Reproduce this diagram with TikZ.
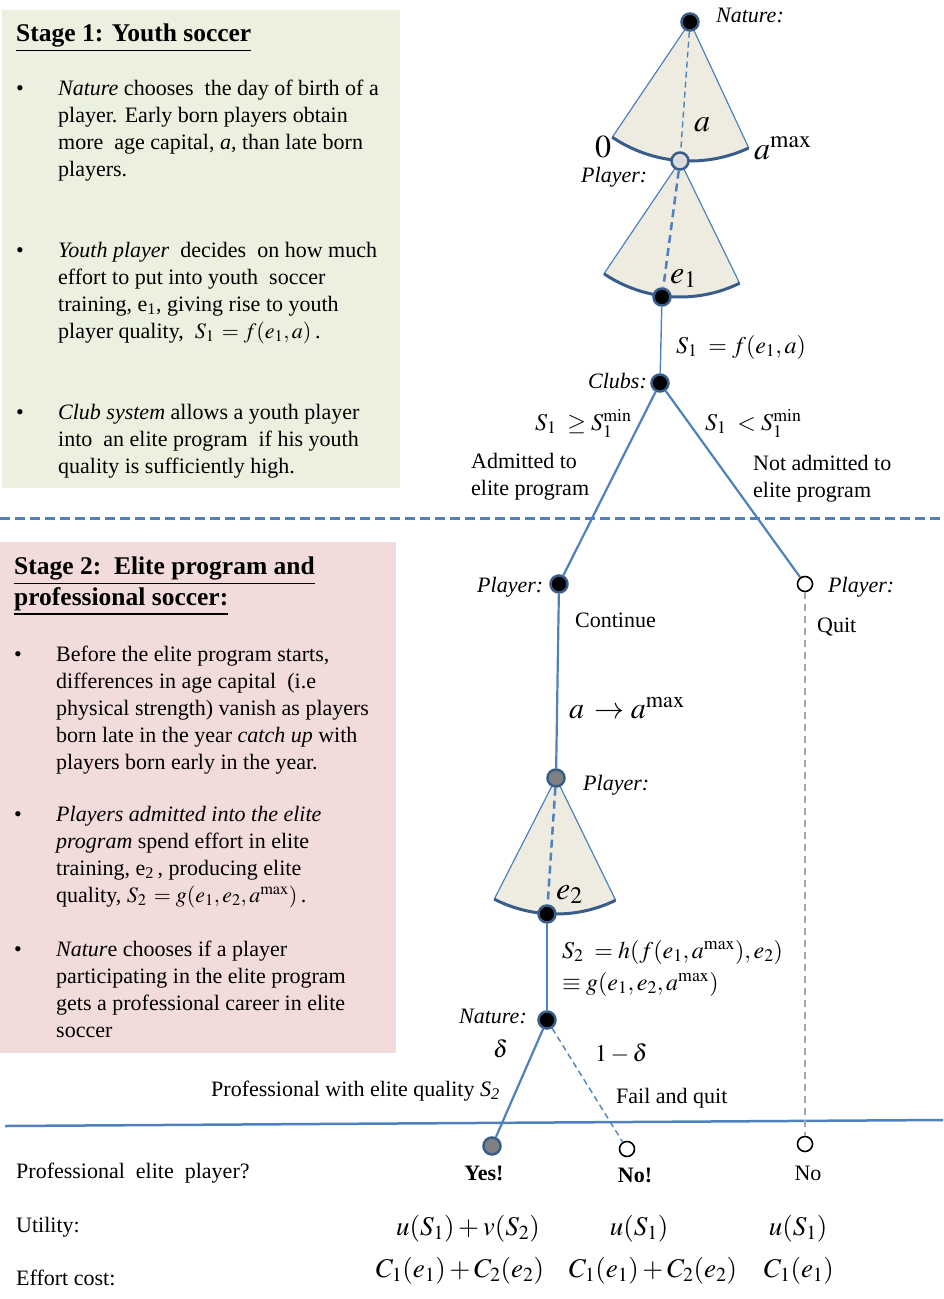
\documentclass[tikz,border=0pt]{standalone}
\usepackage{mathptmx}
\usepackage[no-math]{fontspec}
\setmainfont{Liberation Serif}
\usetikzlibrary{calc}
\definecolor{lblue}{HTML}{4F81BD}
\definecolor{dblue}{HTML}{385D8A}
\definecolor{sect}{HTML}{EEECE1}
\definecolor{greenbox}{HTML}{EBF1DE}
\definecolor{pinkbox}{HTML}{F2DCDB}
\definecolor{qgray}{HTML}{A6A6A6}
\newcommand\mysector[4]{%
  \fill[sect] (#1) -- ++(#3:#2) arc[start angle=#3, end angle=#4, radius=#2] -- cycle;
  \draw[lblue, line width=1.2pt] (#1) -- ++(#3:#2);
  \draw[lblue, line width=1.2pt] (#1) -- ++(#4:#2);
  \draw[dblue, line width=3pt] ($(#1)+(#3:#2)$) arc[start angle=#3, end angle=#4, radius=#2];
}
\tikzset{
  txt/.style={inner sep=0pt, anchor=base west, font=\fontsize{22}{27}\selectfont, align=left},
  ttl/.style={inner sep=0pt, anchor=base west, font=\fontsize{25.5}{31}\selectfont\bfseries, align=left},
  lbl/.style={inner sep=0pt, anchor=base west, font=\fontsize{22}{27}\selectfont\itshape},
  mth/.style={inner sep=0pt, anchor=base west, font=\fontsize{24}{30}\selectfont},
  botm/.style={inner sep=0pt, anchor=base, font=\fontsize{27}{30}\selectfont},
  bigm/.style={inner sep=0pt, anchor=base west, font=\fontsize{32}{36}\selectfont},
  dnode/.style={circle, draw=dblue, line width=2.5pt, minimum size=17pt, inner sep=0pt},
  blk/.style={dnode, fill=black},
  lgt/.style={dnode, fill=black!14},
  gry/.style={dnode, fill=black!50},
  opn/.style={circle, draw=black, line width=1.6pt, fill=white, minimum size=15pt, inner sep=0pt},
  br/.style={draw=lblue, line width=2.2pt},
  thinbr/.style={draw=lblue, line width=1.4pt},
  dsh/.style={draw=lblue, line width=1.4pt, dash pattern=on 6pt off 4pt},
  dshk/.style={draw=lblue, line width=2.5pt, dash pattern=on 8pt off 5pt},
  bul/.style={inner sep=0pt, anchor=base west, font=\fontsize{22}{27}\selectfont},
}
\begin{document}
\begin{tikzpicture}[x=1pt, y=-1pt]
\useasboundingbox (0,0) rectangle (943,1299);
% boxes
\fill[greenbox] (2,10) rectangle (400,488);
\fill[pinkbox] (0,542) rectangle (396,1053);
% separators
\draw[lblue, line width=3pt, dash pattern=on 10pt off 5pt] (0,518) -- (943,518);
\draw[lblue, line width=2.5pt] (5,1126) -- (943,1120);

% Stage 1 text (multi-line nodes are anchored at the baseline of their last line)
\node[ttl] (t1) at (16,41) {\underline{Stage 1: Youth soccer}};
\node[bul] (b11) at (16,95) {\textbullet};
\node[txt] (p11) at (58,176) {\textit{Nature} chooses\ \ the day of birth of a\\ player. Early born players obtain\\ more\ \ age capital, \textit{a,} than late born\\ players.};
\node[bul] (b12) at (16,257) {\textbullet};
\node[txt] (p12) at (58,338) {\textit{Youth player}\ \ decides\ \ on how much\\ effort to put into youth\ \ soccer\\ training, e\textsubscript{1}, giving rise to youth\\ player quality,\ \ $S_1 \,= f(e_1,a)$\,.};
\node[bul] (b13) at (16,419) {\textbullet};
\node[txt] (p13) at (58,473) {\textit{Club system} allows a youth player\\ into\ \ an elite program\ \ if his youth\\ quality is sufficiently high.};

% Stage 2 text
\node[ttl] (t2) at (14,605) {\underline{Stage 2:\ \ Elite program and}\\ \underline{professional soccer:}};
\node[bul] (b21) at (14,661) {\textbullet};
\node[txt] (p21) at (56,769) {Before the elite program starts,\\ differences in age capital\ \ (i.e\\ physical strength) vanish as players\\ born late in the year \textit{catch up} with\\ players born early in the year.};
\node[bul] (b22) at (14,821) {\textbullet};
\node[txt] (p22) at (56,902) {\textit{Players admitted into the elite}\\ \textit{program} spend effort in elite\\ training, e\textsubscript{2}\,, producing elite\\ quality, $S_2 \,= g(e_1,e_2,a^{\mathrm{max}})$\,.};
\node[bul] (b23) at (14,956) {\textbullet};
\node[txt] (p23) at (56,1037) {\textit{Natur}e chooses if a player\\ participating in the elite program\\ gets a professional career in elite\\ soccer};

% tree coordinates
\coordinate (cnat1) at (690,22);
\coordinate (cpl1) at (680,161);
\coordinate (ce1) at (662,297);
\coordinate (cpl4) at (556,778);
\coordinate (ce2) at (547,914);

% sectors
\mysector{cnat1}{139}{124}{65}
\mysector{cpl1}{136}{124}{64}
\mysector{cpl4}{136}{117}{64}

% nodes
\node[blk] (nat1) at (cnat1) {};
\node[lgt] (pl1) at (cpl1) {};
\node[blk] (e1n) at (ce1) {};
\node[blk] (clubs) at (660,383) {};
\node[blk] (pl2) at (559,584) {};
\node[opn] (pl3) at (805,584) {};
\node[gry] (pl4) at (cpl4) {};
\node[blk] (e2n) at (ce2) {};
\node[blk] (nat2) at (547,1020) {};
\node[gry] (yes) at (492,1146) {};
\node[opn] (no1) at (627,1149) {};
\node[opn] (no2) at (805,1144) {};

% connectors
\draw[dsh] (nat1) -- (pl1);
\draw[dshk] (pl1) -- (e1n);
\draw[thinbr] (e1n) -- (clubs);
\draw[br] (clubs) -- (pl2);
\draw[br] (clubs) -- (pl3);
\draw[br] (pl2) -- (pl4);
\draw[dshk] (pl4) -- (e2n);
\draw[thinbr] (e2n) -- (nat2);
\draw[br] (nat2) -- (yes);
\draw[dsh] (nat2) -- (no1);
\draw[qgray, line width=1.5pt, dash pattern=on 7pt off 5pt] (pl3) -- (no2);

% tree labels
\node[lbl] (lnat1) at (716,22) {Nature:};
\node[bigm] (la) at (694,131) {$a$};
\node[bigm] (l0) at (595,157) {$0$};
\node[bigm] (lamax) at (754,159) {$a^{\mathrm{max}}$};
\node[lbl] (lpl1) at (581,182) {Player:};
\node[bigm] (le1) at (670,283) {$e_1$};
\node[mth] (ls1) at (676,353) {$S_1 \;= f(e_1,a)$};
\node[lbl] (lclubs) at (588,388) {Clubs:};
\node[mth] (lge) at (535,430) {$S_1 \;\geq S_1^{\mathrm{min}}$};
\node[mth] (llt) at (705,430) {$S_1 \;< S_1^{\mathrm{min}}$};
\node[txt] (ladm) at (471,495) {Admitted to\\ elite program};
\node[txt] (lnadm) at (753,497) {Not admitted to\\ elite program};
\node[lbl] (lpl2) at (477,592) {Player:};
\node[txt] (lcont) at (575,627) {Continue};
\node[lbl] (lpl3) at (828,592) {Player:};
\node[txt] (lquit) at (817,632) {Quit};
\node[inner sep=0pt, anchor=base west, font=\fontsize{30}{34}\selectfont] (lcatch) at (569,718) {$a\, \to a^{\mathrm{max}}$};
\node[lbl] (lpl4) at (583,790) {Player:};
\node[bigm] (le2) at (556,899) {$e_2$};
\node[mth] (ls2) at (562,958) {$S_2 \;= h(f(e_1,a^{\mathrm{max}}),e_2)$};
\node[mth] (lg) at (562,990) {$\equiv g(e_1,e_2,a^{\mathrm{max}})$};
\node[lbl] (lnat2) at (459,1023) {Nature:};
\node[mth] (ldelta) at (493,1057) {$\delta$};
\node[mth] (l1delta) at (595,1061) {$1-\delta$};
\node[txt] (lprof) at (211,1096) {Professional with elite quality \textit{S}\textsubscript{\textit{2}}};
\node[txt] (lfail) at (616,1103) {Fail and quit};

% bottom table
\node[txt] (q) at (16,1178) {Professional\ \ elite\ \ player?};
\node[txt, font=\fontsize{22}{27}\selectfont\bfseries, anchor=base] (ryes) at (484,1180) {Yes!};
\node[txt, font=\fontsize{22}{27}\selectfont\bfseries, anchor=base] (rno1) at (635,1182) {No!};
\node[txt, anchor=base] (rno2) at (808,1180) {No};
\node[txt] (util) at (16,1232) {Utility:};
\node[txt] (cost) at (16,1285) {Effort cost:};
\node[botm] (u1) at (468,1235) {$u(S_1)+v(S_2)$};
\node[botm] (u2) at (639,1235) {$u(S_1)$};
\node[botm] (u3) at (798,1235) {$u(S_1)$};
\node[botm] (c1) at (460,1277) {$C_1(e_1)+C_2(e_2)$};
\node[botm] (c2) at (653,1277) {$C_1(e_1)+C_2(e_2)$};
\node[botm] (c3) at (799,1277) {$C_1(e_1)$};
\end{tikzpicture}
\end{document}
